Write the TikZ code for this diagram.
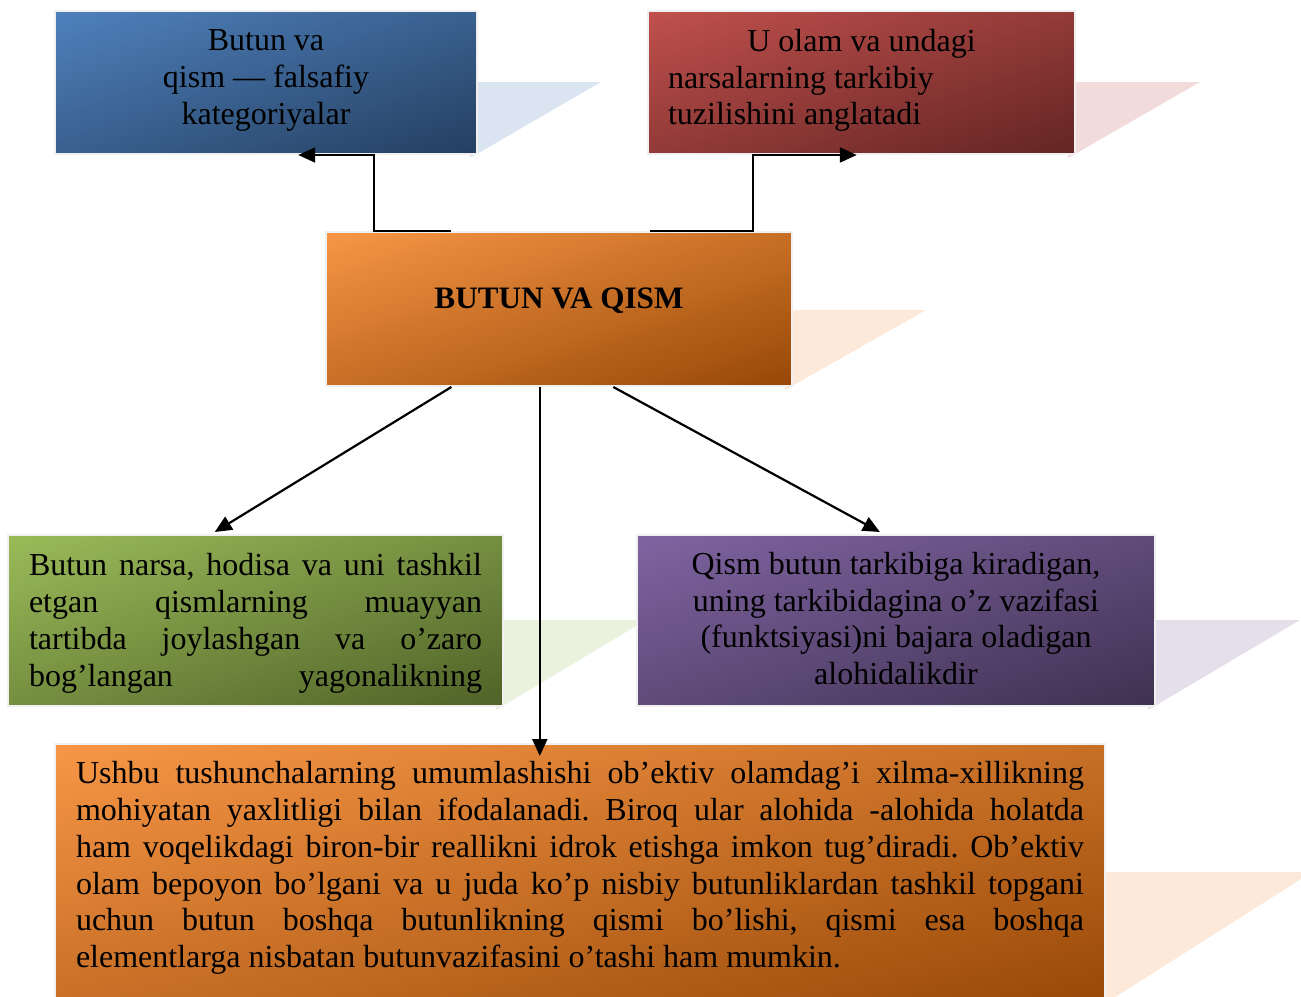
\documentclass[tikz,border=0pt]{standalone}
\usepackage{fontspec}
\setmainfont{Liberation Serif}
\usetikzlibrary{arrows.meta,calc}
\frenchspacing
\definecolor{blueA}{HTML}{4F81BD}
\definecolor{blueB}{HTML}{243F60}
\definecolor{redA}{HTML}{C0504D}
\definecolor{redB}{HTML}{632523}
\definecolor{orA}{HTML}{F79646}
\definecolor{orB}{HTML}{974806}
\definecolor{grA}{HTML}{9BBB59}
\definecolor{grB}{HTML}{4F6228}
\definecolor{puA}{HTML}{8064A2}
\definecolor{puB}{HTML}{3F3151}
\definecolor{blueS}{HTML}{DBE5F1}
\definecolor{redS}{HTML}{F2DBDB}
\definecolor{orS}{HTML}{FDE9D9}
\definecolor{grS}{HTML}{EAF1DD}
\definecolor{puS}{HTML}{E5DFEC}
\definecolor{edge}{HTML}{F0F0F0}
\newcommand{\lift}[2]{\raisebox{#1}[\height][\depth]{#2}}
\begin{document}
\begin{tikzpicture}[x=0.5pt,y=-0.5pt,
  box/.style={draw=edge, line width=1pt, inner sep=0pt, anchor=center,
    font=\fontsize{16pt}{18.4pt}\selectfont\frenchspacing},
  grad/.style n args={4}{path picture={
    \shade[transform canvas={rotate around={#3:(path picture bounding box.center)}},
      top color=#1, bottom color=#2]
      ([shift={(-700pt,#4/2)}]path picture bounding box.center) rectangle
      ([shift={(700pt,-#4/2)}]path picture bounding box.center);}},
  conn/.style={line width=1.1pt, -{Triangle[length=8.5pt,width=7.5pt]}},
  shadowpoly/.style={fill=#1, draw=none}]
\useasboundingbox (0,0) rectangle (1301,996);
\clip (0,0) rectangle (1301,996);
\fill[white] (0,0) rectangle (1301,996);

% shadows
\fill[shadowpoly=blueS] (470,82) -- (601,82) -- (470,158) -- cycle;
\fill[shadowpoly=redS] (1068,82) -- (1200,82) -- (1068,158) -- cycle;
\fill[shadowpoly=orS] (785,310) -- (926,310) -- (785,390) -- cycle;
\fill[shadowpoly=grS] (496,620) -- (646,620) -- (496,710) -- cycle;
\fill[shadowpoly=puS] (1148,620) -- (1300,620) -- (1148,710) -- cycle;
\fill[shadowpoly=orS] (1098,872) -- (1312,872) -- (1098,1008) -- cycle;

% boxes
\node[box, grad={blueA}{blueB}{18.7}{135.4pt}, minimum width=211pt, minimum height=71.5pt] (blue) at (266,82.5)
  {\lift{1pt}{\parbox{200pt}{\centering Butun va\\ qism — falsafiy\\ kategoriyalar}}};
\node[box, grad={redA}{redB}{18.5}{135.6pt}, minimum width=213.5pt, minimum height=71.5pt] (red) at (861.5,82.5)
  {\lift{1pt}{\parbox{193.5pt}{\makebox[\linewidth][c]{U olam va undagi}\\ narsalarning tarkibiy\\ tuzilishini anglatadi}}};
\node[box, grad={orA}{orB}{18.3}{146.2pt}, minimum width=233pt, minimum height=77pt] (center) at (559,309)
  {\lift{4pt}{\fontsize{15.6pt}{18pt}\selectfont\bfseries BUTUN VA QISM}};
\node[box, grad={grA}{grB}{19.1}{161.6pt}, minimum width=247.5pt, minimum height=85.5pt] (green) at (255.5,620.5)
  {\lift{-1.5pt}{\parbox{226.5pt}{%
    \makebox[\linewidth][s]{Butun narsa, hodisa va uni tashkil}\\
    \makebox[\linewidth][s]{etgan qismlarning muayyan}\\
    \makebox[\linewidth][s]{tartibda joylashgan va o’zaro}\\
    \makebox[\linewidth][s]{bog’langan yagonalikning}}}};
\node[box, grad={puA}{puB}{18.3}{162.4pt}, minimum width=259pt, minimum height=85.5pt] (purple) at (896,620.5)
  {\lift{1pt}{\parbox{250pt}{\centering Qism butun tarkibiga kiradigan,\\ uning tarkibidagina o’z vazifasi\\ (funktsiyasi)ni bajara oladigan\\ alohidalikdir}}};
\node[box, grad={orA}{orB}{14.2}{257.9pt}, minimum width=525pt, minimum height=133pt] (bottom) at (580,877)
  {\lift{4.5pt}{\parbox{504pt}{%
    \makebox[\linewidth][s]{Ushbu tushunchalarning umumlashishi ob’ektiv olamdag’i xilma-xillikning}\\
    \makebox[\linewidth][s]{mohiyatan yaxlitligi bilan ifodalanadi. Biroq ular alohida -alohida holatda}\\
    \makebox[\linewidth][s]{ham voqelikdagi biron-bir reallikni idrok etishga imkon tug’diradi. Ob’ektiv}\\
    \makebox[\linewidth][s]{olam bepoyon bo’lgani va u juda ko’p nisbiy butunliklardan tashkil topgani}\\
    \makebox[\linewidth][s]{uchun butun boshqa butunlikning qismi bo’lishi, qismi esa boshqa}\\
    elementlarga nisbatan butunvazifasini o’tashi ham mumkin.}}};

% connector points
\coordinate (ct1) at ($(center.north west)!0.27!(center.north east)$);
\coordinate (ct2) at ($(center.north west)!0.695!(center.north east)$);
\coordinate (cb1) at ($(center.south west)!0.27!(center.south east)$);
\coordinate (cb2) at ($(center.south west)!0.459!(center.south east)$);
\coordinate (cb3) at ($(center.south west)!0.616!(center.south east)$);
\coordinate (bluetip) at ($(blue.south west)!0.576!(blue.south east)$);
\coordinate (redtip) at ($(red.south west)!0.489!(red.south east)$);
\coordinate (greentip) at ($(green.north west)!0.418!(green.north east)+(0,-2)$);
\coordinate (purpletip) at ($(purple.north west)!0.469!(purple.north east)+(0,-2)$);
\coordinate (bottomtip) at ($(cb2 |- bottom.north)+(0,13)$);

% connectors
\draw[conn] (ct1) -- ++(-77,0) |- (bluetip);
\draw[conn] (ct2) -- ++(103,0) |- (redtip);
\draw[conn] (cb1) -- (greentip);
\draw[conn] (cb2) -- (bottomtip);
\draw[conn] (cb3) -- (purpletip);
\end{tikzpicture}
\end{document}
